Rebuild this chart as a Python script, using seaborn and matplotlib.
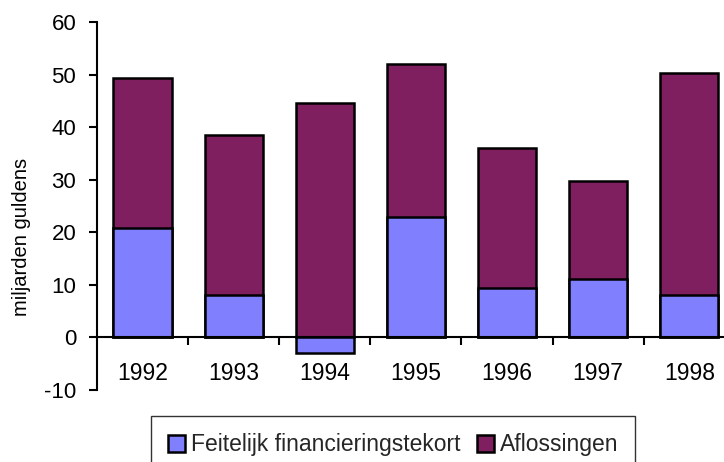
import matplotlib
matplotlib.use("Agg")
import matplotlib.pyplot as plt
import seaborn as sns
import pandas as pd
import numpy as np
from matplotlib.patches import Patch
from matplotlib.ticker import FixedLocator

years = ["1992", "1993", "1994", "1995", "1996", "1997", "1998"]
tekort = [20.8, 8.0, -3.0, 22.9, 9.4, 11.2, 8.0]
aflossingen = [28.6, 30.5, 44.6, 29.1, 26.6, 18.6, 42.3]

blue = "#8080FF"
maroon = "#7F1F5F"

sns.set_theme(style="white")
plt.rcParams["font.family"] = ["Liberation Sans", "DejaVu Sans"]

df = pd.DataFrame({"year": years, "tekort": tekort, "afl": aflossingen})
df["total"] = df["tekort"].clip(lower=0) + df["afl"]

fig = plt.figure(figsize=(7.24, 4.62), dpi=100)
ax = fig.add_axes([0.134, 0.156, 0.881, 0.796])

sns.barplot(data=df, x="year", y="total", color=maroon, saturation=1,
            width=0.64, edgecolor="black", linewidth=1.8, ax=ax)
sns.barplot(data=df, x="year", y="tekort", color=blue, saturation=1,
            width=0.64, edgecolor="black", linewidth=1.8, ax=ax)

ax.set_xlim(-0.5, 6.5)
ax.set_ylim(-10, 60)
ax.set_yticks(range(-10, 61, 10))
ax.set_yticklabels(["-10", "0", "10", "20", "30", "40", "50", "60"], fontsize=16, color="black")
ax.set_ylabel("miljarden guldens", fontsize=14.5, color="black")
ax.yaxis.set_label_coords(-0.103, 0.416)
ax.set_xlabel("")

for s in ["top", "right"]:
    ax.spines[s].set_visible(False)
ax.spines["bottom"].set_position(("data", 0))
for s in ["left", "bottom"]:
    ax.spines[s].set_color("black")
    ax.spines[s].set_linewidth(1.5)

ax.tick_params(axis="y", which="major", direction="out", length=6, width=1.5, color="black", left=True, pad=9)
ax.tick_params(axis="x", which="major", length=0, labelsize=16.5, labelcolor="black", pad=18)
ax.xaxis.set_minor_locator(FixedLocator(np.arange(0.5, 6.5, 1.0)))
ax.tick_params(axis="x", which="minor", direction="out", length=6, width=1.5, color="black", bottom=True)

handles = [Patch(facecolor=blue, edgecolor="black", linewidth=1.8, label="Feitelijk financieringstekort"),
           Patch(facecolor=maroon, edgecolor="black", linewidth=1.8, label="Aflossingen")]
leg = fig.legend(handles=handles, loc="upper center", bbox_to_anchor=(0.543, 0.099), ncol=2,
                 fontsize=16.5, frameon=True, fancybox=False, edgecolor="black",
                 handlelength=0.75, handleheight=0.75, handletextpad=0.25, columnspacing=0.7,
                 borderpad=0.75, borderaxespad=0)
leg.get_frame().set_linewidth(1.0)

fig.savefig("out.png", dpi=100)
